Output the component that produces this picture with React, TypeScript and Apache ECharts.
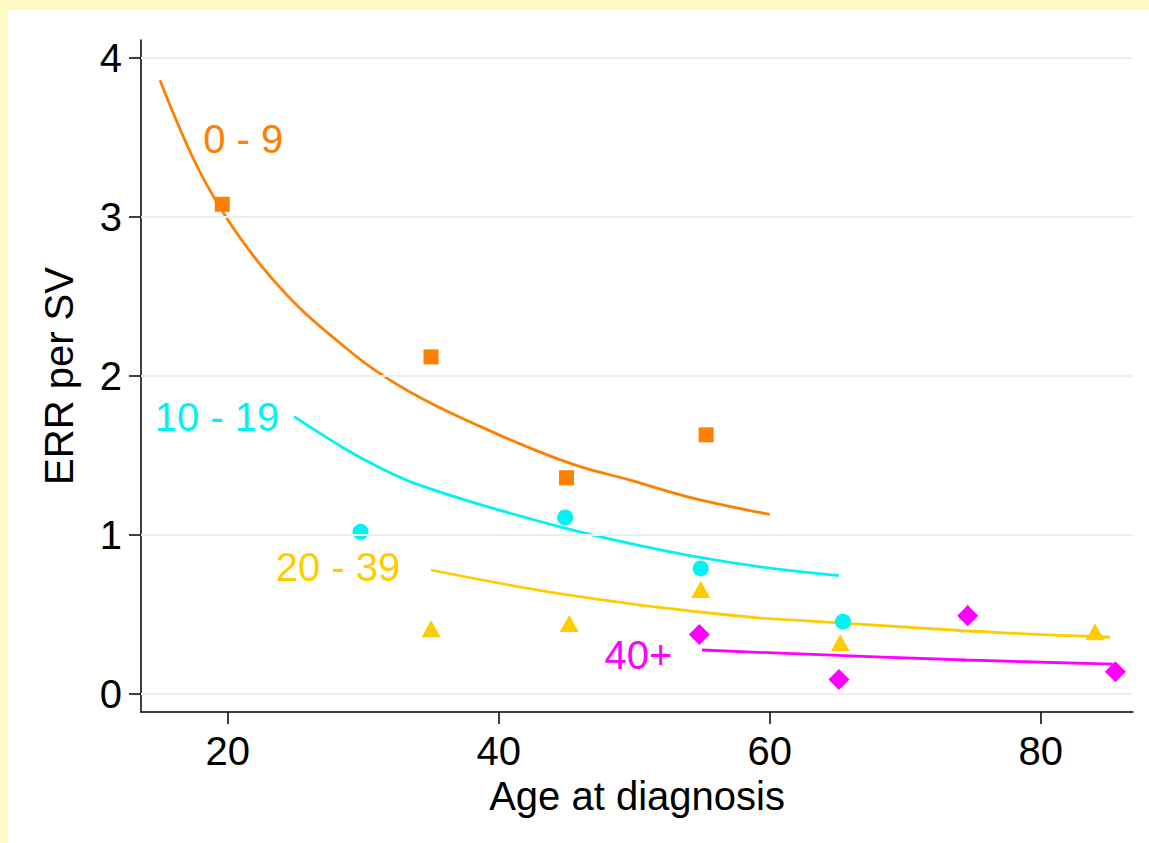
import React, { useEffect, useRef } from "react";
import * as echarts from "echarts";

// Tick values
const xTicks = [20, 40, 60, 80];
const yTicks = [0, 1, 2, 3, 4];

// Group names
const groups = ["0 - 9", "10 - 19", "20 - 39", "40+"];
const colors = ["#FF7F00", "#00F2F2", "#FFCC00", "#FF00FF"];

// Observed points [age, ERR per SV]
const orangePts = [[19.6, 3.08], [35, 2.12], [45, 1.36], [55.3, 1.63]];
const cyanPts = [[29.8, 1.02], [44.9, 1.11], [54.9, 0.79], [65.4, 0.455]];
const yellowPts = [[35, 0.41], [45.2, 0.444], [54.9, 0.658], [65.2, 0.323], [74.6, 0.516], [84, 0.392]];
const magentaPts = [[54.8, 0.375], [65.1, 0.092], [74.6, 0.492], [85.5, 0.14]];

// Fitted curves
const orangeCurve = [[15, 3.86], [17.5, 3.36], [19.5, 3.05], [21.5, 2.8], [23.4, 2.6], [25.4, 2.42], [27.4, 2.27], [30.8, 2.04], [34.5, 1.85], [38.7, 1.68], [42.5, 1.54], [46, 1.43], [49.5, 1.35], [54.4, 1.23], [60, 1.13]];
const cyanCurve = [[24.9, 1.745], [28.8, 1.535], [31.3, 1.42], [33.8, 1.325], [38.7, 1.19], [44.6, 1.05], [49.5, 0.95], [54.4, 0.865], [59.3, 0.8], [65.1, 0.745]];
const yellowCurve = [[35, 0.78], [42.8, 0.655], [49.5, 0.57], [54.4, 0.52], [59.3, 0.478], [62.2, 0.463], [69.6, 0.423], [77, 0.386], [85.1, 0.357]];
const magentaCurve = [[55, 0.277], [62.2, 0.252], [74.5, 0.214], [85.3, 0.188]];

// Group label anchors [age, ERR]
const labelAnchors = [[21.14, 3.49], [19.21, 1.742], [28.13, 0.8], [50.3, 0.248]];

const FONT = "'Liberation Sans', Arial, Helvetica, sans-serif";

export default function App() {
  const ref = useRef<HTMLDivElement>(null);
  useEffect(() => {
    if (!ref.current) return;
    const chart = echarts.init(ref.current, null, { renderer: "svg" });
    const curves = [orangeCurve, cyanCurve, yellowCurve, magentaCurve];
    const pts = [orangePts, cyanPts, yellowPts, magentaPts];
    const symbols: any[] = ["rect", "circle", "triangle", "diamond"];
    const sizes: any[] = [15, 16, [19, 17], 21];

    const series: any[] = [
      {
        type: "line",
        data: [],
        z: 1,
        silent: true,
        markLine: {
          silent: true,
          symbol: ["none", "none"],
          label: { show: false },
          lineStyle: { color: "#E8F0F1", width: 2, type: "solid" },
          emphasis: { disabled: true },
          data: yTicks.map((v) => ({ yAxis: v })),
        },
      },
    ];
    curves.forEach((c, i) => {
      series.push({
        type: "line",
        name: groups[i] + " fit",
        data: c,
        smooth: 0.4,
        showSymbol: false,
        z: 2,
        lineStyle: { color: colors[i], width: 2.8 },
        itemStyle: { color: colors[i] },
      });
    });
    pts.forEach((p, i) => {
      series.push({
        type: "scatter",
        name: groups[i],
        data: p,
        symbol: symbols[i],
        symbolSize: sizes[i],
        z: 3 + i,
        itemStyle: { color: colors[i], opacity: 1 },
      });
    });
    series.push({
      type: "scatter",
      z: 10,
      symbolSize: 1,
      itemStyle: { color: "rgba(0,0,0,0)" },
      data: labelAnchors.map((a, i) => ({
        value: a,
        label: {
          show: true,
          position: "inside",
          formatter: groups[i],
          color: colors[i],
          opacity: 1,
          textBorderWidth: 0,
          textBorderColor: "transparent",
          fontSize: 40,
          fontFamily: FONT,
        },
      })),
    });

    chart.setOption({
      animation: false,
      backgroundColor: "#FFF9C4",
      graphic: [
        {
          type: "rect",
          z: -10,
          silent: true,
          shape: { x: 8, y: 10, width: 1141, height: 833 },
          style: { fill: "#FFFFFF" },
        },
      ],
      grid: { left: 141, right: 16, top: 40, bottom: 131, containLabel: false },
      xAxis: {
        type: "value",
        min: 13.6,
        max: 86.8,
        name: "Age at diagnosis",
        nameLocation: "middle",
        nameGap: 58,
        nameTextStyle: { color: "#000", fontSize: 40, fontFamily: FONT },
        axisLine: { show: true, onZero: false, lineStyle: { color: "#000", width: 1.5 } },
        axisTick: { show: true, length: 12, customValues: xTicks, lineStyle: { color: "#000", width: 1.5 } },
        axisLabel: { customValues: xTicks, margin: 19, color: "#000", fontSize: 40, fontFamily: FONT },
        splitLine: { show: false },
      },
      yAxis: {
        type: "value",
        min: -0.113,
        max: 4.113,
        name: "ERR per SV",
        nameLocation: "middle",
        nameGap: 62,
        nameTextStyle: { color: "#000", fontSize: 40, fontFamily: FONT },
        axisLine: { show: true, onZero: false, lineStyle: { color: "#000", width: 1.5 } },
        axisTick: { show: true, length: 12, customValues: yTicks, lineStyle: { color: "#000", width: 1.5 } },
        axisLabel: { customValues: yTicks, margin: 19, color: "#000", fontSize: 40, fontFamily: FONT },
        splitLine: { show: false },
      },
      series,
    });
    return () => chart.dispose();
  }, []);
  return (
    <div
      ref={ref}
      style={{ position: "fixed", left: 0, top: 0, width: 1149, height: 843 }}
    />
  );
}
